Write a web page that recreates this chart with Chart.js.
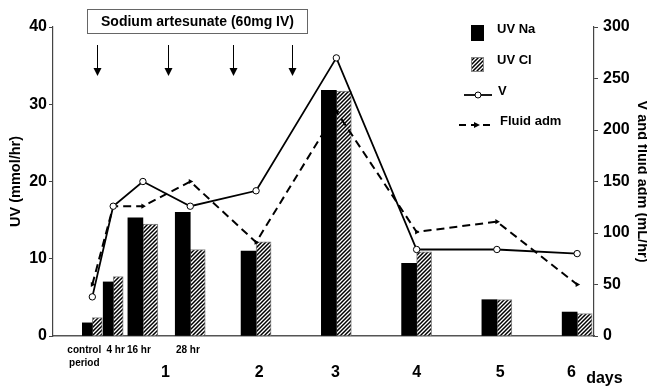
<!DOCTYPE html>
<html>
<head>
<meta charset="utf-8">
<script src="https://cdn.jsdelivr.net/npm/chart.js@4/dist/chart.umd.min.js"></script>
<style>
  html, body { margin: 0; padding: 0; background: #fff; }
</style>
</head>
<body>
<canvas id="uvChart" width="647" height="388"></canvas>
<script>
// sample times, in days from the first dose (control period sits just before 0)
const groupPos = [-0.04, 0.22, 0.59, 1.18, 2, 3, 4, 5, 6];
const uvNa = [1.7, 7.0, 15.3, 16.0, 11.0, 31.8, 9.4, 4.7, 3.1];
const uvCl = [2.4, 7.7, 14.5, 11.2, 12.2, 31.7, 10.9, 4.7, 2.9];
const urineV = [38, 126, 150, 126, 141, 270, 84, 84, 80];
const fluidAdm = [50, 126, 126, 150, 91, 218, 101, 111, 50];

// x tick labels: the early hour samples, then the day numbers
const hourTickPos = [-0.14, 0.25, 0.54, 1.15];
const hourTickLabels = [['control', 'period'], '4 hr', '16 hr', '28 hr'];
const dayTickPos = [0.87, 2.04, 2.99, 4.0, 5.04, 5.93];
const dayTickLabels = ['1', '2', '3', '4', '5', '6'];

// dosing arrows
const doseAt = [0.02, 0.9, 1.71, 2.45];
const doseNote = 'Sodium artesunate (60mg IV)';

const FONT = '"Liberation Sans", Arial, sans-serif';
Chart.defaults.font.family = FONT;
Chart.defaults.color = '#000';

// hatched fill for the chloride bars
const tile = document.createElement('canvas');
tile.width = tile.height = 4;
const tg = tile.getContext('2d');
tg.fillStyle = '#fff';
tg.fillRect(0, 0, 4, 4);
tg.strokeStyle = '#000';
tg.lineWidth = 1.5;
tg.beginPath();
tg.moveTo(0, 4); tg.lineTo(4, 0);
tg.moveTo(-1, 1); tg.lineTo(1, -1);
tg.moveTo(3, 5); tg.lineTo(5, 3);
tg.stroke();
const hatch = document.getElementById('uvChart').getContext('2d').createPattern(tile, 'repeat');

// first two samples get narrower bars
const NARROW = 2;
const pick = (vals, keep) => groupPos.map((x, i) => ({ x, y: keep(i) ? vals[i] : null }));
const early = i => i < NARROW;
const late = i => i >= NARROW;

const naStyle = { backgroundColor: '#000', borderWidth: 0, stack: 'na', order: 2 };
const clStyle = { backgroundColor: hatch, borderColor: '#888', borderWidth: 1, stack: 'cl', order: 2 };

const annotate = {
  id: 'annotate',
  afterDraw(chart) {
    const { ctx, scales: { x } } = chart;
    ctx.save();

    // dosing box + arrows
    ctx.strokeStyle = '#666';
    ctx.lineWidth = 1;
    ctx.strokeRect(87.5, 9.5, 220, 24);
    ctx.fillStyle = '#000';
    ctx.font = 'bold 14px ' + FONT;
    ctx.textAlign = 'center';
    ctx.textBaseline = 'middle';
    ctx.fillText(doseNote, 197.5, 22);

    ctx.strokeStyle = '#000';
    doseAt.forEach(d => {
      const px = Math.round(x.getPixelForValue(d)) + 0.5;
      ctx.beginPath();
      ctx.moveTo(px, 45);
      ctx.lineTo(px, 69);
      ctx.stroke();
      ctx.beginPath();
      ctx.moveTo(px - 4, 68);
      ctx.lineTo(px + 4, 68);
      ctx.lineTo(px, 76);
      ctx.closePath();
      ctx.fill();
    });

    // x axis unit
    ctx.font = 'bold 16px ' + FONT;
    ctx.textAlign = 'left';
    ctx.fillText('days', x.getPixelForValue(6) + 9, 379);

    // legend
    const ds = chart.data.datasets;
    ctx.font = 'bold 13px ' + FONT;
    ctx.fillStyle = '#000';
    ctx.fillRect(471, 25, 13, 16);
    ctx.fillText(ds[2].label, 497, 29);

    ctx.fillStyle = hatch;
    ctx.fillRect(471, 57, 13, 15);
    ctx.strokeStyle = '#888';
    ctx.strokeRect(471.5, 57.5, 12, 14);
    ctx.fillStyle = '#000';
    ctx.fillText(ds[3].label, 497, 60);

    ctx.strokeStyle = '#000';
    ctx.lineWidth = 1.8;
    ctx.beginPath();
    ctx.moveTo(464, 95);
    ctx.lineTo(492, 95);
    ctx.stroke();
    ctx.lineWidth = 1;
    ctx.fillStyle = '#fff';
    ctx.beginPath();
    ctx.arc(478, 95, 3, 0, Math.PI * 2);
    ctx.fill();
    ctx.stroke();
    ctx.fillStyle = '#000';
    ctx.fillText(ds[0].label, 498, 91);

    ctx.lineWidth = 2;
    ctx.setLineDash([7, 5]);
    ctx.beginPath();
    ctx.moveTo(459, 125);
    ctx.lineTo(492, 125);
    ctx.stroke();
    ctx.setLineDash([]);
    ctx.beginPath();
    ctx.moveTo(474, 122);
    ctx.lineTo(480, 125);
    ctx.lineTo(474, 128);
    ctx.closePath();
    ctx.fill();
    ctx.fillText(ds[1].label, 500, 121.5);

    ctx.restore();
  }
};

new Chart(document.getElementById('uvChart'), {
  type: 'bar',
  data: {
    datasets: [
      {
        type: 'line', label: 'V', yAxisID: 'y2', order: 1,
        data: groupPos.map((x, i) => ({ x, y: urineV[i] })),
        borderColor: '#000', borderWidth: 1.8,
        pointRadius: 3.2, pointBackgroundColor: '#fff', pointBorderColor: '#000', pointBorderWidth: 1
      },
      {
        type: 'line', label: 'Fluid adm', yAxisID: 'y2', order: 1,
        data: groupPos.map((x, i) => ({ x, y: fluidAdm[i] })),
        borderColor: '#000', borderWidth: 2, borderDash: [8, 5],
        pointStyle: 'triangle', pointRotation: 90, pointRadius: 3,
        pointBackgroundColor: '#000', pointBorderWidth: 0
      },
      { label: 'UV Na', data: pick(uvNa, early), barThickness: 10, ...naStyle },
      { label: 'UV Cl', data: pick(uvCl, early), barThickness: 10, ...clStyle },
      { label: 'UV Na', data: pick(uvNa, late), barThickness: 15, ...naStyle },
      { label: 'UV Cl', data: pick(uvCl, late), barThickness: 15, ...clStyle }
    ]
  },
  options: {
    responsive: false,
    animation: false,
    events: [],
    layout: { padding: { top: 27, left: 0, right: 0, bottom: 0 } },
    plugins: { legend: { display: false }, tooltip: { enabled: false } },
    scales: {
      x: {
        type: 'linear', min: -0.53, max: 6.21, stacked: true, bounds: 'data', offset: false,
        grid: { display: false, drawTicks: false, offset: false },
        border: { color: '#555', width: 1.5 },
        ticks: {
          autoSkip: false, maxRotation: 0, minRotation: 0, padding: 7.5,
          font: c => c.index < hourTickPos.length
            ? { size: 10, weight: 'bold', lineHeight: 1.3 }
            : { size: 16, weight: 'bold', lineHeight: 1.23 },
          callback: (v, i) => i < hourTickLabels.length
            ? hourTickLabels[i]
            : ['', dayTickLabels[i - hourTickLabels.length]]
        },
        afterBuildTicks: s => { s.ticks = [...hourTickPos, ...dayTickPos].map(v => ({ value: v })); },
        afterFit: s => { s.height = 52; }
      },
      y: {
        position: 'left', min: 0, max: 40, stacked: false,
        grid: { drawOnChartArea: false, drawTicks: true, tickLength: 4, color: '#444' },
        border: { color: '#444', width: 1.2 },
        ticks: { stepSize: 10, padding: 2, font: { size: 16, weight: 'bold' } },
        title: {
          display: true, text: 'UV (mmol/hr)',
          font: { size: 14.5, weight: 'bold', lineHeight: 1.2 },
          padding: { top: 7.3, bottom: 0 }
        },
        afterFit: s => { s.width = 53; }
      },
      y2: {
        position: 'right', min: 0, max: 300,
        grid: { drawOnChartArea: false, drawTicks: true, tickLength: 4, color: '#444' },
        border: { color: '#444', width: 1.2 },
        ticks: { stepSize: 50, padding: 5, font: { size: 16, weight: 'bold' } },
        title: {
          display: true, text: 'V and fluid adm (mL/hr)',
          font: { size: 14.5, weight: 'bold', lineHeight: 1 },
          padding: { top: -2.2, bottom: 0 }
        },
        afterFit: s => { s.width = 53; }
      }
    }
  },
  plugins: [annotate]
});
</script>
</body>
</html>
